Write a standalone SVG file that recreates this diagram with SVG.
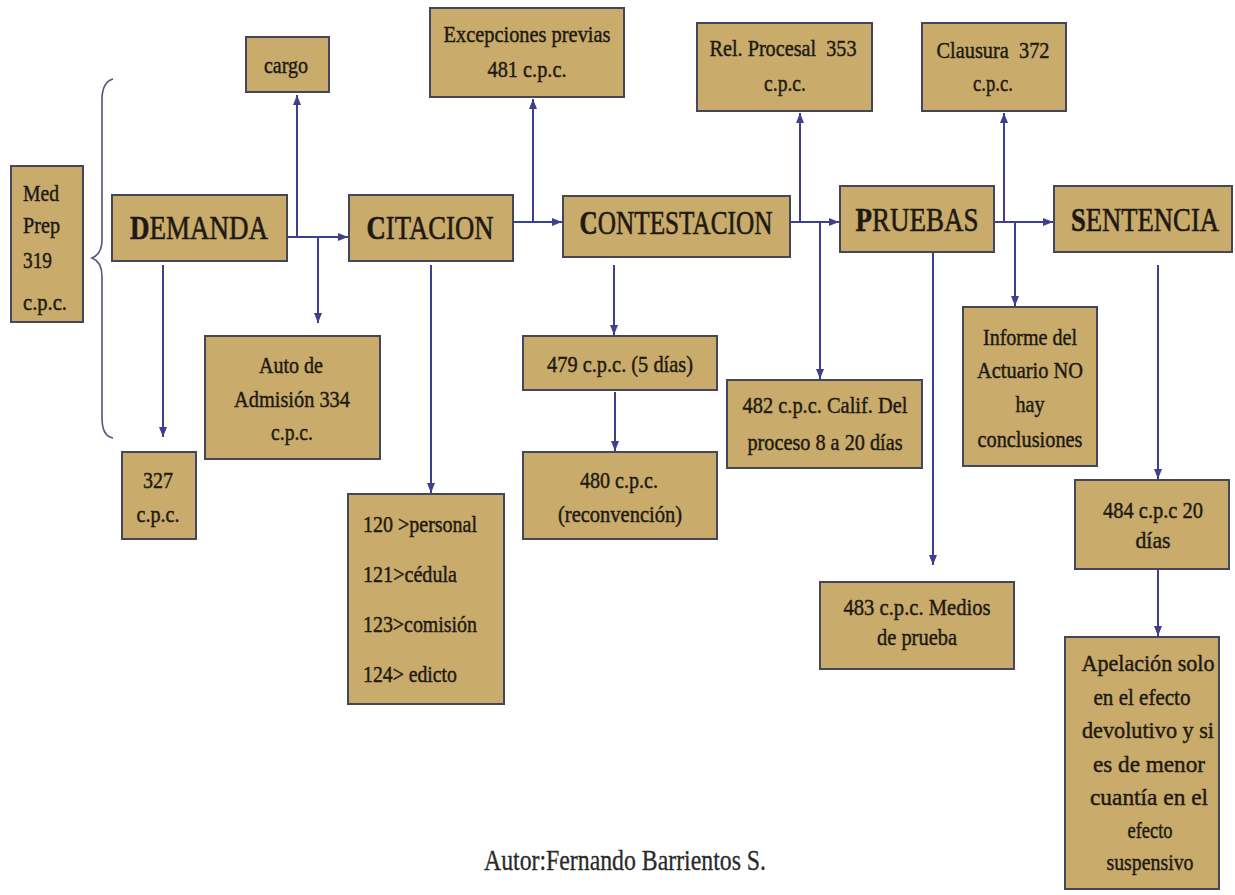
<svg xmlns="http://www.w3.org/2000/svg" width="1235" height="895" viewBox="0 0 1235 895" font-family="'Liberation Serif', 'Times New Roman', serif">
<style>
text{font-family:'Liberation Serif','Times New Roman',serif}
.box{fill:#C9AB6C;stroke:#46465a;stroke-width:2}
.t{font-size:24px;fill:#1e1a12;stroke:#1e1a12;stroke-width:0.45;text-anchor:middle}
.l{text-anchor:start}
.title{font-size:34px;stroke-width:0.6}
.au{font-size:30px;fill:#2a2a2a;stroke:#2a2a2a;stroke-width:0.3}
.conn{stroke:#3f3f8f;stroke-width:2;fill:none}
.brace{stroke:#55557a;stroke-width:1.6;fill:none}
</style>
<defs>
<marker id="arr" markerUnits="userSpaceOnUse" markerWidth="10" markerHeight="8" refX="10" refY="4" orient="auto">
<path d="M0,0 L10,4 L0,8 z" fill="#3f3f8f"/>
</marker>
</defs>
<rect width="1235" height="895" fill="#ffffff"/>

<g id="connectors">
<path class="conn" d="M287,237 H348" marker-end="url(#arr)"/>
<path class="conn" d="M297,237 V95" marker-end="url(#arr)"/>
<path class="conn" d="M318,237 V323" marker-end="url(#arr)"/>
<path class="conn" d="M163,265 V437" marker-end="url(#arr)"/>
<path class="conn" d="M431,265 V493" marker-end="url(#arr)"/>
<path class="conn" d="M513,222 H562" marker-end="url(#arr)"/>
<path class="conn" d="M533,222 V99" marker-end="url(#arr)"/>
<path class="conn" d="M614,265 V335" marker-end="url(#arr)"/>
<path class="conn" d="M615,392 V451" marker-end="url(#arr)"/>
<path class="conn" d="M790,222 H839" marker-end="url(#arr)"/>
<path class="conn" d="M800,222 V113" marker-end="url(#arr)"/>
<path class="conn" d="M820,222 V379" marker-end="url(#arr)"/>
<path class="conn" d="M933,252 V565" marker-end="url(#arr)"/>
<path class="conn" d="M994,222 H1053" marker-end="url(#arr)"/>
<path class="conn" d="M1004,222 V113" marker-end="url(#arr)"/>
<path class="conn" d="M1015,222 V306" marker-end="url(#arr)"/>
<path class="conn" d="M1158,265 V479" marker-end="url(#arr)"/>
<path class="conn" d="M1158,569 V636" marker-end="url(#arr)"/>
</g>

<g id="brace">
<path class="brace" d="M113,79 Q102,82 102,100 L102,240 Q102,254 92,258 Q102,262 102,276 L102,418 Q102,436 113,438"/>
</g>

<g id="medprep">
<rect class="box" x="11" y="166" width="72" height="156"/>
<text class="t l" x="23" y="201" textLength="36" lengthAdjust="spacingAndGlyphs">Med</text>
<text class="t l" x="23" y="233" textLength="37" lengthAdjust="spacingAndGlyphs">Prep</text>
<text class="t l" x="23" y="268" textLength="29" lengthAdjust="spacingAndGlyphs">319</text>
<text class="t l" x="23" y="310" textLength="44" lengthAdjust="spacingAndGlyphs">c.p.c.</text>
</g>

<g id="cargo">
<rect class="box" x="246" y="37" width="83" height="55"/>
<text class="t" x="286" y="73" textLength="44" lengthAdjust="spacingAndGlyphs">cargo</text>
</g>

<g id="demanda">
<rect class="box" x="112" y="195" width="175" height="66"/>
<text class="t title" x="199" y="239" textLength="138" lengthAdjust="spacingAndGlyphs"><tspan font-weight="bold">D</tspan>EMANDA</text>
</g>

<g id="citacion">
<rect class="box" x="349" y="195" width="164" height="66"/>
<text class="t title" x="430" y="239" textLength="127" lengthAdjust="spacingAndGlyphs"><tspan font-weight="bold">C</tspan>ITACION</text>
</g>

<g id="excepciones">
<rect class="box" x="430" y="8" width="194" height="89"/>
<text class="t" x="527" y="42" textLength="167" lengthAdjust="spacingAndGlyphs">Excepciones previas</text>
<text class="t" x="527" y="77" textLength="79" lengthAdjust="spacingAndGlyphs">481 c.p.c.</text>
</g>

<g id="contestacion">
<rect class="box" x="563" y="196" width="227" height="61"/>
<text class="t title" x="676" y="234" textLength="193" lengthAdjust="spacingAndGlyphs"><tspan font-weight="bold">C</tspan>ONTESTACION</text>
</g>

<g id="relprocesal">
<rect class="box" x="697" y="23" width="175" height="88"/>
<text class="t" x="783" y="56" textLength="147" lengthAdjust="spacingAndGlyphs" xml:space="preserve">Rel. Procesal  353</text>
<text class="t" x="785" y="91" textLength="42" lengthAdjust="spacingAndGlyphs">c.p.c.</text>
</g>

<g id="clausura">
<rect class="box" x="922" y="23" width="144" height="88"/>
<text class="t" x="993" y="58" textLength="113" lengthAdjust="spacingAndGlyphs" xml:space="preserve">Clausura  372</text>
<text class="t" x="993" y="91" textLength="40" lengthAdjust="spacingAndGlyphs">c.p.c.</text>
</g>

<g id="pruebas">
<rect class="box" x="840" y="186" width="154" height="66"/>
<text class="t title" x="917" y="231" textLength="123" lengthAdjust="spacingAndGlyphs"><tspan font-weight="bold">P</tspan>RUEBAS</text>
</g>

<g id="sentencia">
<rect class="box" x="1054" y="186" width="178" height="66"/>
<text class="t title" x="1145" y="231" textLength="148" lengthAdjust="spacingAndGlyphs"><tspan font-weight="bold">S</tspan>ENTENCIA</text>
</g>

<g id="auto">
<rect class="box" x="205" y="336" width="175" height="123"/>
<text class="t" x="291" y="373" textLength="64" lengthAdjust="spacingAndGlyphs">Auto de</text>
<text class="t" x="292" y="407" textLength="116" lengthAdjust="spacingAndGlyphs">Admisión 334</text>
<text class="t" x="292" y="440" textLength="42" lengthAdjust="spacingAndGlyphs">c.p.c.</text>
</g>

<g id="n327">
<rect class="box" x="122" y="452" width="74" height="87"/>
<text class="t" x="158" y="488" textLength="30" lengthAdjust="spacingAndGlyphs">327</text>
<text class="t" x="158" y="522" textLength="43" lengthAdjust="spacingAndGlyphs">c.p.c.</text>
</g>

<g id="notificaciones">
<rect class="box" x="348" y="494" width="156" height="210"/>
<text class="t l" x="363" y="532" textLength="114" lengthAdjust="spacingAndGlyphs">120 &gt;personal</text>
<text class="t l" x="363" y="582" textLength="94" lengthAdjust="spacingAndGlyphs">121&gt;cédula</text>
<text class="t l" x="363" y="632" textLength="114" lengthAdjust="spacingAndGlyphs">123&gt;comisión</text>
<text class="t l" x="363" y="682" textLength="94" lengthAdjust="spacingAndGlyphs">124&gt; edicto</text>
</g>

<g id="n479">
<rect class="box" x="523" y="336" width="194" height="54"/>
<text class="t" x="620" y="372" textLength="146" lengthAdjust="spacingAndGlyphs">479 c.p.c. (5 días)</text>
</g>

<g id="n480">
<rect class="box" x="523" y="452" width="194" height="87"/>
<text class="t" x="619" y="488" textLength="78" lengthAdjust="spacingAndGlyphs">480 c.p.c.</text>
<text class="t" x="620" y="522" textLength="124" lengthAdjust="spacingAndGlyphs">(reconvención)</text>
</g>

<g id="n482">
<rect class="box" x="727" y="380" width="195" height="88"/>
<text class="t" x="825" y="413" textLength="165" lengthAdjust="spacingAndGlyphs">482 c.p.c. Calif. Del</text>
<text class="t" x="825" y="450" textLength="155" lengthAdjust="spacingAndGlyphs">proceso 8 a 20 días</text>
</g>

<g id="n483">
<rect class="box" x="820" y="582" width="194" height="87"/>
<text class="t" x="917" y="615" textLength="147" lengthAdjust="spacingAndGlyphs">483 c.p.c. Medios</text>
<text class="t" x="917" y="645" textLength="80" lengthAdjust="spacingAndGlyphs">de prueba</text>
</g>

<g id="informe">
<rect class="box" x="963" y="307" width="134" height="159"/>
<text class="t" x="1030" y="345" textLength="94" lengthAdjust="spacingAndGlyphs">Informe del</text>
<text class="t" x="1030" y="378" textLength="106" lengthAdjust="spacingAndGlyphs">Actuario NO</text>
<text class="t" x="1030" y="412" textLength="29" lengthAdjust="spacingAndGlyphs">hay</text>
<text class="t" x="1030" y="447" textLength="105" lengthAdjust="spacingAndGlyphs">conclusiones</text>
</g>

<g id="n484">
<rect class="box" x="1075" y="480" width="154" height="89"/>
<text class="t" x="1153" y="518" textLength="100" lengthAdjust="spacingAndGlyphs">484 c.p.c 20</text>
<text class="t" x="1153" y="548" textLength="35" lengthAdjust="spacingAndGlyphs">días</text>
</g>

<g id="apelacion">
<rect class="box" x="1065" y="637" width="154" height="252"/>
<text class="t" x="1148" y="671" textLength="133" lengthAdjust="spacingAndGlyphs">Apelación solo</text>
<text class="t" x="1142" y="705" textLength="97" lengthAdjust="spacingAndGlyphs">en el efecto</text>
<text class="t" x="1148" y="738" textLength="132" lengthAdjust="spacingAndGlyphs">devolutivo y si</text>
<text class="t" x="1149" y="772" textLength="112" lengthAdjust="spacingAndGlyphs">es de menor</text>
<text class="t" x="1149" y="805" textLength="118" lengthAdjust="spacingAndGlyphs">cuantía en el</text>
<text class="t" x="1150" y="838" textLength="45" lengthAdjust="spacingAndGlyphs">efecto</text>
<text class="t" x="1150" y="870" textLength="87" lengthAdjust="spacingAndGlyphs">suspensivo</text>
</g>

<g id="autor">
<text class="t au" x="625" y="870" textLength="282" lengthAdjust="spacingAndGlyphs">Autor:Fernando Barrientos S.</text>
</g>
</svg>
